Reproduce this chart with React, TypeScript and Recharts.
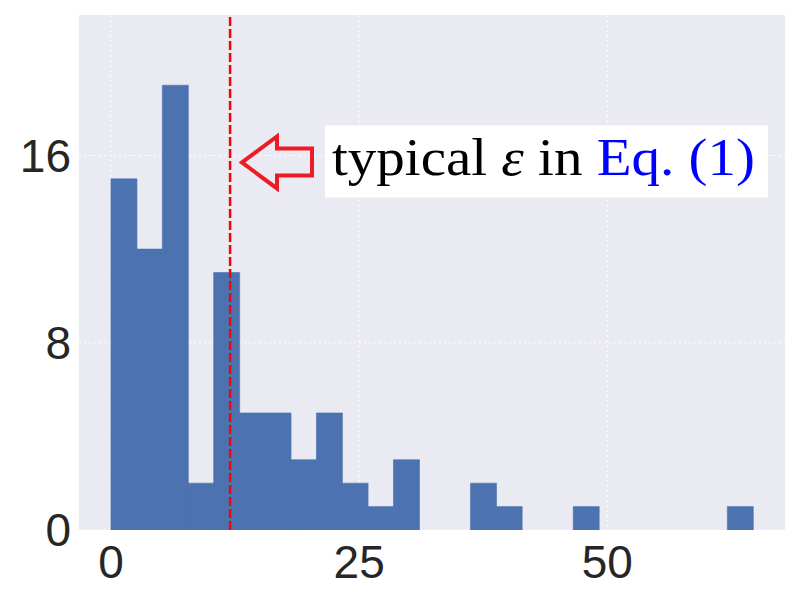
import { ComposedChart, Bar, XAxis, YAxis, CartesianGrid, ReferenceLine, ReferenceDot } from "recharts";

// histogram counts, 25 bins starting at 0
const binStart = 0;
const binWidth = 2.587;
const counts = [15, 12, 19, 2, 11, 5, 5, 3, 5, 2, 1, 3, 0, 0, 2, 1, 0, 0, 1, 0, 0, 0, 0, 0, 1];
const xTicks = [0, 25, 50];
const yTicks = [0, 8, 16];
const typicalEps = 12;
const arrowTip = { x: 13.2, y: 15.7 };

const data = counts.map((count, i) => ({ mid: binStart + (i + 0.5) * binWidth, count }));

const tickStyle = { fontFamily: "'Liberation Sans', Arial, sans-serif", fontSize: 46, fill: "#262626" };

function ArrowNote(props: any) {
  const { cx, cy } = props;
  if (cx == null || cy == null) return null;
  const pts = [
    [0, 0], [35, -26], [35, -14], [70, -14], [70, 13], [35, 13], [35, 26],
  ].map(([dx, dy]) => `${cx + dx},${cy + dy}`).join(" ");
  return (
    <g>
      <polygon points={pts} fill="none" stroke="#ed1c24" strokeWidth={4} strokeLinejoin="miter" />
      <rect x={cx + 83} y={cy - 37} width={443} height={72} fill="#ffffff" />
      <text x={cx + 90} y={cy + 13} textLength={423} lengthAdjust="spacingAndGlyphs"
        fontFamily="'Liberation Serif', 'DejaVu Serif', serif" fontSize={52} fill="#000">
        typical <tspan fontStyle="italic">ε</tspan> in <tspan fill="#0000ff">Eq. (1)</tspan>
      </text>
    </g>
  );
}

export default function App() {
  return (
    <div style={{ position: "absolute", left: 0, top: 0, background: "#fff" }}>
      <ComposedChart width={800} height={600} data={data} barCategoryGap={0} barGap={0}
        margin={{ top: 15, right: 15, left: 0, bottom: 0 }}>
        <CartesianGrid fill="#eaeaf2" stroke="#ffffff" strokeDasharray="2 3" strokeWidth={1}
          horizontalValues={yTicks} verticalValues={xTicks} />
        <XAxis dataKey="mid" type="number" domain={[-3.22, 67.9]} ticks={xTicks} allowDataOverflow
          axisLine={false} tickLine={false} tickMargin={9} height={70} tick={tickStyle} />
        <YAxis type="number" domain={[0, 22]} ticks={yTicks} allowDataOverflow
          axisLine={false} tickLine={false} width={79} tick={tickStyle} />
        <Bar dataKey="count" fill="#4c72b0" stroke="#4c72b0" strokeWidth={0.6} isAnimationActive={false} />
        <ReferenceLine x={typicalEps} stroke="#ff0000" strokeWidth={2.5} strokeDasharray="9 3" />
        <ReferenceDot x={arrowTip.x} y={arrowTip.y} shape={ArrowNote} />
      </ComposedChart>
    </div>
  );
}
